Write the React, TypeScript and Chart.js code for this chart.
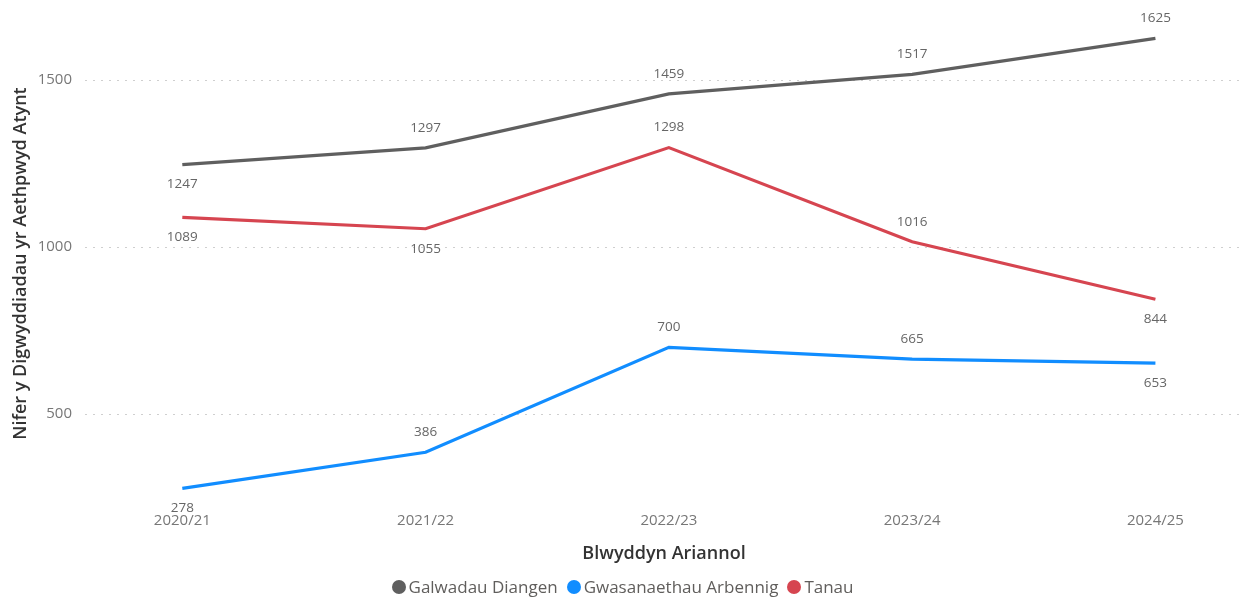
import React, { useEffect, useRef } from "react";
import { Chart, registerables } from "chart.js";

Chart.register(...registerables);

const categories = ["2020/21", "2021/22", "2022/23", "2023/24", "2024/25"];
const seriesNames = ["Galwadau Diangen", "Gwasanaethau Arbennig", "Tanau"];
const galwadauDiangen = [1247, 1297, 1459, 1517, 1625];
const gwasanaethauArbennig = [278, 386, 700, 665, 653];
const tanau = [1089, 1055, 1298, 1016, 844];
const yTicks = [500, 1000, 1500];
const seriesColors = ["#5F5F5F", "#118DFF", "#D64550"];

// label placement: 1 = above, -1 = below
const galwadauPos = [-1, 1, 1, 1, 1];
const gwasanaethauPos = [-1, 1, 1, 1, -1];
const tanauPos = [-1, -1, 1, 1, -1];

const FONT = "'Segoe UI', 'Open Sans', 'Noto Sans', sans-serif";

const toPoints = (vals: number[]) => vals.map((v, i) => ({ x: i, y: v }));

const dataLabelPlugin = {
  id: "dataLabels",
  afterDatasetsDraw(chart: any) {
    const ctx = chart.ctx;
    ctx.save();
    ctx.font = `13.5px ${FONT}`;
    ctx.fillStyle = "#666666";
    ctx.textAlign = "center";
    ctx.textBaseline = "middle";
    chart.data.datasets.forEach((ds: any, di: number) => {
      const meta = chart.getDatasetMeta(di);
      if (meta.hidden) return;
      meta.data.forEach((pt: any, i: number) => {
        const dir = ds.labelPos[i];
        ctx.fillText(String(ds.data[i].y), pt.x, pt.y - dir * 20);
      });
    });
    ctx.restore();
  },
};

export default function App() {
  const ref = useRef<HTMLCanvasElement | null>(null);

  useEffect(() => {
    document.body.style.margin = "0";
    const values = [galwadauDiangen, gwasanaethauArbennig, tanau];
    const positions = [galwadauPos, gwasanaethauPos, tanauPos];
    const chart = new Chart(ref.current!, {
      type: "line",
      data: {
        datasets: seriesNames.map((name, k) => ({
          label: name,
          data: toPoints(values[k]),
          borderColor: seriesColors[k],
          backgroundColor: seriesColors[k],
          borderWidth: 3.2,
          pointRadius: 0,
          labelPos: positions[k],
        })) as any,
      },
      options: {
        animation: false,
        responsive: false,
        maintainAspectRatio: false,
        layout: { padding: { top: 0, right: 2, left: 0, bottom: 32 } },
        plugins: {
          tooltip: { enabled: false },
          legend: { display: false },
        },
        scales: {
          x: {
            type: "linear",
            min: -0.4,
            max: 4.36,
            grid: { display: false, drawTicks: false },
            border: { display: false },
            afterBuildTicks: (scale: any) => {
              scale.ticks = categories.map((_, i) => ({ value: i }));
            },
            afterFit: (scale: any) => {
              scale.height = 60;
            },
            ticks: {
              color: "#777777",
              font: { family: FONT, size: 15 },
              padding: 7,
              maxRotation: 0,
              autoSkip: false,
              callback: (v: any) => categories[Math.round(Number(v))] ?? "",
            },
            title: {
              display: true,
              text: "Blwyddyn Ariannol",
              color: "#333333",
              font: { family: FONT, size: 18, weight: "600" },
              padding: { top: 4, bottom: 0 },
            },
          },
          y: {
            min: 228,
            max: 1674,
            border: { display: false, dash: [2, 6] },
            afterBuildTicks: (scale: any) => {
              scale.ticks = yTicks.map((v) => ({ value: v }));
            },
            afterFit: (scale: any) => {
              scale.width = 85;
            },
            grid: {
              color: "#CFCFCF",
              lineWidth: 1,
              drawTicks: false,
            },
            ticks: {
              color: "#777777",
              font: { family: FONT, size: 15 },
              padding: 13,
              callback: (v: any) => String(v),
            },
            title: {
              display: true,
              text: "Nifer y Digwyddiadau yr Aethpwyd Atynt",
              color: "#333333",
              font: { family: FONT, size: 18, weight: "600" },
              padding: { top: 10, bottom: 4 },
            },
          },
        },
      } as any,
      plugins: [dataLabelPlugin],
    });
    return () => chart.destroy();
  }, []);

  return (
    <div style={{ position: "absolute", left: 0, top: 0, width: 1245, height: 597 }}>
      <canvas ref={ref} width={1245} height={597} style={{ width: 1245, height: 597 }} />
      <div
        style={{
          position: "absolute",
          left: 0,
          top: 576,
          width: 1245,
          height: 22,
          display: "flex",
          justifyContent: "center",
          alignItems: "center",
          gap: 9,
          fontFamily: FONT,
          fontSize: 17,
          color: "#605E5C",
          lineHeight: "22px",
        }}
      >
        {seriesNames.map((name, k) => (
          <div key={name} style={{ display: "flex", alignItems: "center", gap: 3 }}>
            <span
              style={{
                display: "inline-block",
                width: 14,
                height: 14,
                borderRadius: "50%",
                background: seriesColors[k],
              }}
            />
            <span>{name}</span>
          </div>
        ))}
      </div>
    </div>
  );
}
